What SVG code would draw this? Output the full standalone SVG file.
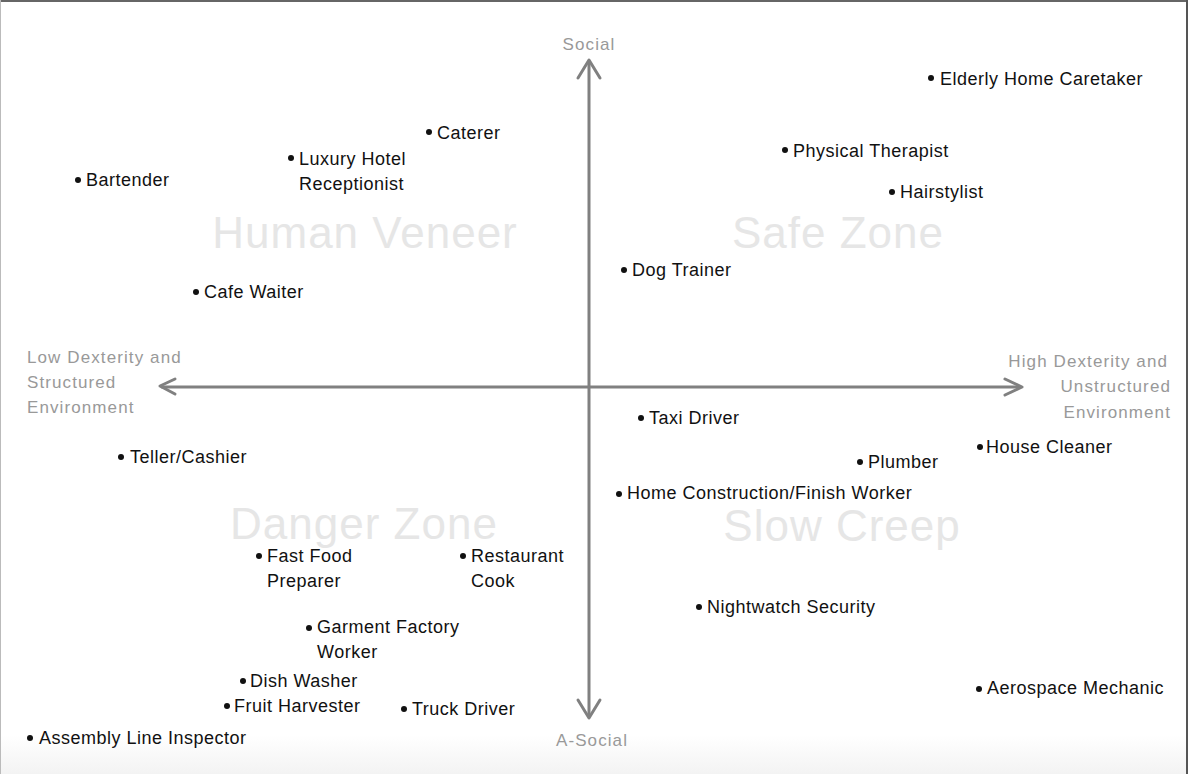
<svg xmlns="http://www.w3.org/2000/svg" width="1192" height="774" viewBox="0 0 1192 774">
<style>
.item{font-family:"Liberation Sans",Arial,sans-serif;font-size:18px;fill:#111;letter-spacing:0.5px}
.axl{font-family:"Liberation Sans",Arial,sans-serif;font-size:17px;fill:#999;letter-spacing:1.1px}
.quad{font-family:"Liberation Sans",Arial,sans-serif;font-size:44px;fill:#e6e6e6;letter-spacing:1px}
.dot{fill:#111}
.axis{stroke:#808080;stroke-width:3;fill:none;stroke-linecap:round;stroke-linejoin:round}
</style>
<defs>
<linearGradient id="bottomShade" x1="0" y1="0" x2="0" y2="1">
<stop offset="0" stop-color="#ffffff"/>
<stop offset="1" stop-color="#f3f3f3"/>
</linearGradient>
</defs>
<rect x="0" y="0" width="1192" height="774" fill="#fff"/>
<rect x="0" y="735" width="1187" height="39" fill="url(#bottomShade)"/>
<line x1="0" y1="1" x2="1188" y2="1" stroke="#666" stroke-width="2"/>
<line x1="0.5" y1="0" x2="0.5" y2="774" stroke="#bbb" stroke-width="1"/>
<line x1="1187" y1="0" x2="1187" y2="774" stroke="#555" stroke-width="2"/>

<g id="quadrants">
<text class="quad" x="365" y="248" text-anchor="middle">Human Veneer</text>
<text class="quad" x="838" y="248" text-anchor="middle">Safe Zone</text>
<text class="quad" x="364" y="539" text-anchor="middle">Danger Zone</text>
<text class="quad" x="842" y="541" text-anchor="middle">Slow Creep</text>
</g>

<g id="connectors">
<line class="axis" x1="589" y1="62" x2="589" y2="716"/>
<polyline class="axis" points="578,78 589,60 600,78"/>
<polyline class="axis" points="578,700 589,718 600,700"/>
<line class="axis" x1="162" y1="387" x2="1020" y2="387"/>
<polyline class="axis" points="175,379 160,386 175,394"/>
<polyline class="axis" points="1005,379 1022,387 1005,395"/>
</g>

<g id="axis-labels">
<text class="axl" x="589" y="50" text-anchor="middle">Social</text>
<text class="axl" x="592" y="746" text-anchor="middle">A-Social</text>
<text class="axl" x="27" y="363">Low Dexterity and</text>
<text class="axl" x="27" y="388">Structured</text>
<text class="axl" x="27" y="413">Environment</text>
<text class="axl" x="1168" y="367" text-anchor="end">High Dexterity and</text>
<text class="axl" x="1171" y="392" text-anchor="end">Unstructured</text>
<text class="axl" x="1171" y="418" text-anchor="end">Environment</text>
</g>

<g id="elderly-home-caretaker"><circle class="dot" cx="931" cy="78" r="3"/><text class="item" x="940" y="85">Elderly Home Caretaker</text></g>
<g id="caterer"><circle class="dot" cx="429" cy="132" r="3"/><text class="item" x="437" y="139">Caterer</text></g>
<g id="luxury-hotel-receptionist"><circle class="dot" cx="291" cy="158" r="3"/><text class="item" x="299" y="165">Luxury Hotel</text><text class="item" x="299" y="190">Receptionist</text></g>
<g id="physical-therapist"><circle class="dot" cx="785" cy="150" r="3"/><text class="item" x="793" y="157">Physical Therapist</text></g>
<g id="bartender"><circle class="dot" cx="78" cy="180" r="3"/><text class="item" x="86" y="186">Bartender</text></g>
<g id="hairstylist"><circle class="dot" cx="892" cy="192" r="3"/><text class="item" x="900" y="198">Hairstylist</text></g>
<g id="dog-trainer"><circle class="dot" cx="624" cy="270" r="3"/><text class="item" x="632" y="276">Dog Trainer</text></g>
<g id="cafe-waiter"><circle class="dot" cx="196" cy="292" r="3"/><text class="item" x="204" y="298">Cafe Waiter</text></g>
<g id="taxi-driver"><circle class="dot" cx="641" cy="418" r="3"/><text class="item" x="649" y="424">Taxi Driver</text></g>
<g id="house-cleaner"><circle class="dot" cx="980" cy="447" r="3"/><text class="item" x="986" y="453">House Cleaner</text></g>
<g id="teller-cashier"><circle class="dot" cx="121" cy="457" r="3"/><text class="item" x="130" y="463">Teller/Cashier</text></g>
<g id="plumber"><circle class="dot" cx="860" cy="462" r="3"/><text class="item" x="868" y="468">Plumber</text></g>
<g id="home-construction"><circle class="dot" cx="619" cy="494" r="3"/><text class="item" x="627" y="499">Home Construction/Finish Worker</text></g>
<g id="fast-food-preparer"><circle class="dot" cx="259" cy="556" r="3"/><text class="item" x="267" y="562">Fast Food</text><text class="item" x="267" y="587">Preparer</text></g>
<g id="restaurant-cook"><circle class="dot" cx="463" cy="556" r="3"/><text class="item" x="471" y="562">Restaurant</text><text class="item" x="471" y="587">Cook</text></g>
<g id="nightwatch-security"><circle class="dot" cx="699" cy="607" r="3"/><text class="item" x="707" y="613">Nightwatch Security</text></g>
<g id="garment-factory-worker"><circle class="dot" cx="309" cy="628" r="3"/><text class="item" x="317" y="633">Garment Factory</text><text class="item" x="317" y="658">Worker</text></g>
<g id="dish-washer"><circle class="dot" cx="243" cy="681" r="3"/><text class="item" x="250" y="687">Dish Washer</text></g>
<g id="aerospace-mechanic"><circle class="dot" cx="979" cy="689" r="3"/><text class="item" x="987" y="694">Aerospace Mechanic</text></g>
<g id="fruit-harvester"><circle class="dot" cx="227" cy="706" r="3"/><text class="item" x="234" y="712">Fruit Harvester</text></g>
<g id="truck-driver"><circle class="dot" cx="404" cy="709" r="3"/><text class="item" x="412" y="715">Truck Driver</text></g>
<g id="assembly-line-inspector"><circle class="dot" cx="30" cy="738" r="3"/><text class="item" x="39" y="744">Assembly Line Inspector</text></g>
</svg>
